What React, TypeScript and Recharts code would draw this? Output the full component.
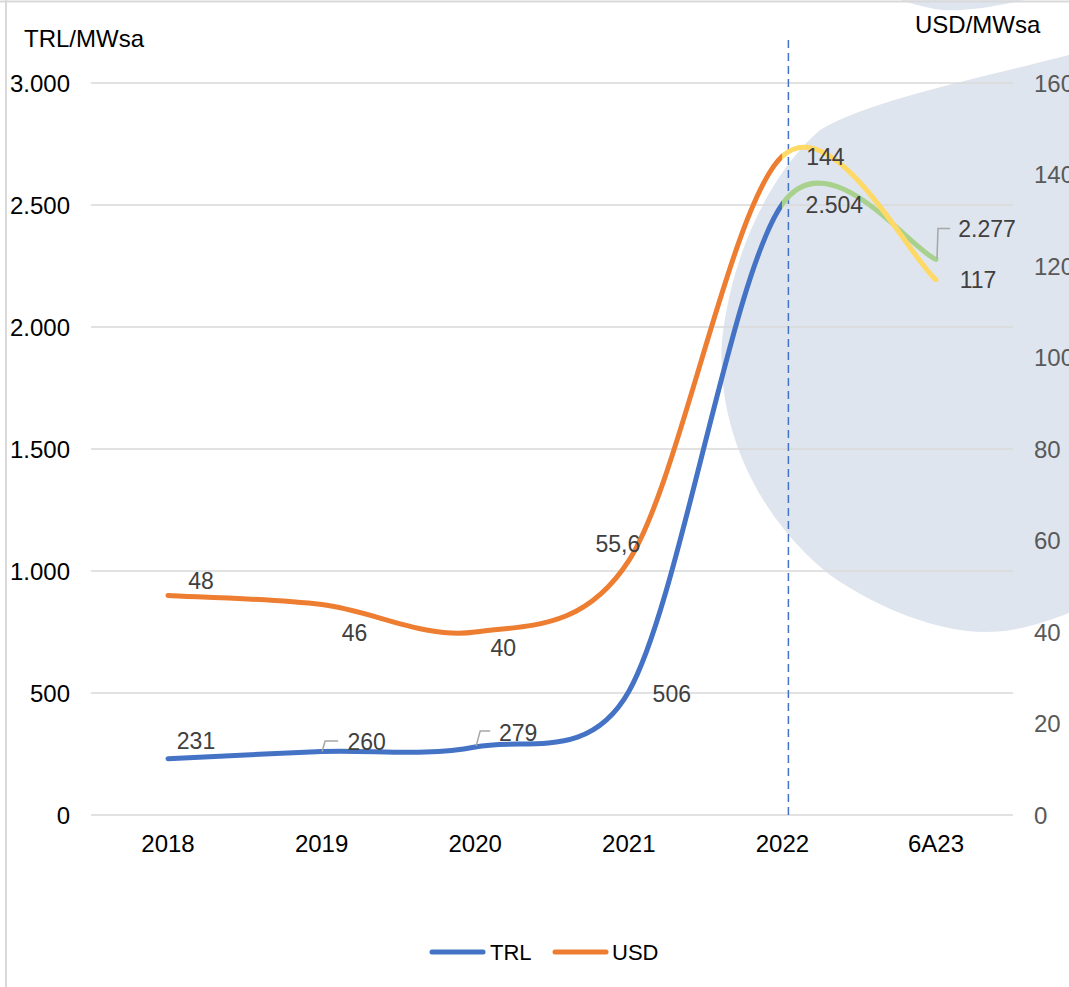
import React from "react";
import {
  CartesianGrid,
  Line,
  LineChart,
  ReferenceLine,
  XAxis,
  YAxis,
} from "recharts";

const categories = ["2018", "2019", "2020", "2021", "2022", "6A23"];
const trlValues = [231, 260, 279, 506, 2504, 2277];
const usdValues = [48, 46, 40, 55.6, 144, 117];
const trlTicks = [0, 500, 1000, 1500, 2000, 2500, 3000];
const usdTicks = [0, 20, 40, 60, 80, 100, 120, 140, 160];

const data = categories.map((period, i) => ({
  period,
  trl: trlValues[i],
  usd: usdValues[i],
}));

const FONT = '"Liberation Sans", Arial, sans-serif';
const BLUE = "#4472C4";
const ORANGE = "#ED7D31";
const GREEN = "#A9D18E";
const YELLOW = "#FFD966";

const fmtTrl = (v: number) =>
  String(v).replace(/\B(?=(\d{3})+(?!\d))/g, ".");
const fmtUsd = (v: number) => String(v).replace(".", ",");

const dist = (a: number[], b: number[]) =>
  Math.hypot(a[0] - b[0], a[1] - b[1]);

// excel-like smoothing: catmull-rom, control arm capped at half the segment
const excelCurve = (context: any) => {
  let pts: number[][] = [];
  return {
    areaStart() {},
    areaEnd() {},
    lineStart() {
      pts = [];
    },
    point(x: number, y: number) {
      pts.push([+x, +y]);
    },
    lineEnd() {
      const n = pts.length;
      if (!n) return;
      context.moveTo(pts[0][0], pts[0][1]);
      for (let i = 0; i < n - 1; i++) {
        const p0 = pts[i - 1] || pts[i];
        const p1 = pts[i];
        const p2 = pts[i + 1];
        const p3 = pts[i + 2] || p2;
        const d12 = dist(p1, p2);
        const d02 = dist(p0, p2);
        const d13 = dist(p1, p3);
        const f1 = d02 > 0 ? Math.min(1 / 6, d12 / 2 / d02) : 0;
        const f2 = d13 > 0 ? Math.min(1 / 6, d12 / 2 / d13) : 0;
        context.bezierCurveTo(
          p1[0] + (p2[0] - p0[0]) * f1,
          p1[1] + (p2[1] - p0[1]) * f1,
          p2[0] - (p3[0] - p1[0]) * f2,
          p2[1] - (p3[1] - p1[1]) * f2,
          p2[0],
          p2[1]
        );
      }
    },
  };
};

const labelOffsets: Record<string, number[][]> = {
  trl: [[28, -18], [45, -10], [43, -14], [43, 2], [52, 1], [51, -30]],
  usd: [[33, -14], [33, 28], [28, 16], [-11, -17], [43, 1], [42, 0]],
};
const leaders: Record<string, Record<number, number[][]>> = {
  trl: {
    1: [[0.5, 0], [3.5, -10.6], [16.5, -10.6]],
    2: [[1, -1], [5, -16], [15, -16]],
    5: [[1, -1], [2, -31], [14, -31]],
  },
  usd: {},
};

const renderLabel = (key: string, fmt: (v: number) => string) => (p: any) => {
  const { x, y, index, value } = p;
  const [dx, dy] = labelOffsets[key][index];
  const leader = leaders[key][index];
  return (
    <g key={`${key}-lbl-${index}`}>
      {leader && (
        <polyline
          points={leader.map(([lx, ly]) => `${x + lx},${y + ly}`).join(" ")}
          fill="none"
          stroke="#A6A6A6"
          strokeWidth={1.5}
        />
      )}
      <text
        x={x + dx}
        y={y + dy}
        dy="0.35em"
        textAnchor="middle"
        fontSize={23}
        fontFamily={FONT}
        fill="#404040"
      >
        {fmt(value)}
      </text>
    </g>
  );
};

const Backdrop = () => (
  <svg
    width={1069}
    height={987}
    style={{ position: "absolute", left: 0, top: 0 }}
  >
    <path
      d="M 1069 55 C 980 78, 870 100, 820 130 C 785 160, 735 230, 722 340 C 716 430, 760 520, 830 575 C 880 610, 940 632, 985 632 C 1020 632, 1050 620, 1069 613 Z"
      fill="#DFE5EE"
    />
    <path d="M 900 0 L 1025 0 Q 960 14 935 9 Q 915 5 900 0 Z" fill="#DFE5EE" />
    <line x1={0} y1={1.5} x2={1069} y2={1.5} stroke="#D9D9D9" strokeWidth={2} />
    <line x1={6} y1={0} x2={6} y2={987} stroke="#D9D9D9" strokeWidth={2} />
  </svg>
);

const Overlay = () => (
  <svg
    width={1069}
    height={987}
    style={{ position: "absolute", left: 0, top: 0, pointerEvents: "none" }}
    fontFamily={FONT}
  >
    <text x={24} y={47} fontSize={24} fill="#000">
      TRL/MWsa
    </text>
    <text x={915} y={33} fontSize={24} fill="#000">
      USD/MWsa
    </text>
    <line x1={432} y1={952} x2={483} y2={952} stroke={BLUE} strokeWidth={5} strokeLinecap="round" />
    <text x={490} y={960} fontSize={22} fill="#000">
      TRL
    </text>
    <line x1={555} y1={952} x2={606} y2={952} stroke={ORANGE} strokeWidth={5} strokeLinecap="round" />
    <text x={612} y={960} fontSize={22} fill="#000">
      USD
    </text>
  </svg>
);

const App = () => {
  return (
    <div style={{ position: "absolute", left: 0, top: 0, width: 1069, height: 987, background: "#fff" }}>
      <Backdrop />
      <div style={{ position: "absolute", left: 0, top: 0 }}>
        <LineChart
          width={1069}
          height={987}
          data={data}
          margin={{ top: 83, right: 0, bottom: 112, left: 0 }}
        >
          <defs>
            <linearGradient id="trlStroke" x1="0" y1="0" x2="1" y2="0">
              <stop offset="0.8" stopColor={BLUE} />
              <stop offset="0.8" stopColor={GREEN} />
            </linearGradient>
            <linearGradient id="usdStroke" x1="0" y1="0" x2="1" y2="0">
              <stop offset="0.8" stopColor={ORANGE} />
              <stop offset="0.8" stopColor={YELLOW} />
            </linearGradient>
          </defs>
          <CartesianGrid
            yAxisId="left"
            vertical={false}
            stroke="#D9D9D9"
            strokeWidth={1.5}
          />
          <XAxis
            dataKey="period"
            axisLine={false}
            tickLine={false}
            tickSize={0}
            tickMargin={20}
            height={60}
            padding={{ left: 77, right: 77 }}
            tick={{ fontSize: 24, fontFamily: FONT, fill: "#000" }}
          />
          <YAxis
            yAxisId="left"
            orientation="left"
            domain={[0, 3000]}
            ticks={trlTicks}
            tickFormatter={fmtTrl}
            width={91}
            axisLine={false}
            tickLine={false}
            tickSize={0}
            tickMargin={21}
            tick={{ fontSize: 24, fontFamily: FONT, fill: "#000" }}
          />
          <YAxis
            yAxisId="right"
            orientation="right"
            domain={[0, 160]}
            ticks={usdTicks}
            width={56}
            axisLine={false}
            tickLine={false}
            tickSize={0}
            tickMargin={21}
            tick={{ fontSize: 24, fontFamily: FONT, fill: "#595959", textAnchor: "start" }}
          />
          <ReferenceLine
            yAxisId="left"
            x="2022"
            shape={(p: any) => (
              <line
                x1={p.x1 + 6}
                y1={40}
                x2={p.x2 + 6}
                y2={Math.max(p.y1, p.y2)}
                stroke={BLUE}
                strokeWidth={1.5}
                strokeDasharray="8 5"
              />
            )}
          />
          <Line
            yAxisId="left"
            dataKey="trl"
            type={excelCurve as any}
            stroke="url(#trlStroke)"
            strokeWidth={5}
            strokeLinecap="round"
            dot={false}
            activeDot={false}
            isAnimationActive={false}
            label={renderLabel("trl", fmtTrl)}
          />
          <Line
            yAxisId="right"
            dataKey="usd"
            type={excelCurve as any}
            stroke="url(#usdStroke)"
            strokeWidth={5}
            strokeLinecap="round"
            dot={false}
            activeDot={false}
            isAnimationActive={false}
            label={renderLabel("usd", fmtUsd)}
          />
        </LineChart>
      </div>
      <Overlay />
    </div>
  );
};

export default App;
